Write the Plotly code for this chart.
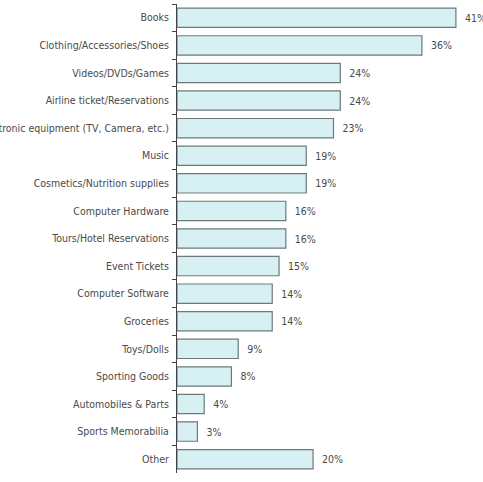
import plotly.graph_objects as go

categories = ["Books", "Clothing/Accessories/Shoes", "Videos/DVDs/Games",
              "Airline ticket/Reservations", "Electronic equipment (TV, Camera, etc.)",
              "Music", "Cosmetics/Nutrition supplies", "Computer Hardware",
              "Tours/Hotel Reservations", "Event Tickets", "Computer Software",
              "Groceries", "Toys/Dolls", "Sporting Goods", "Automobiles & Parts",
              "Sports Memorabilia", "Other"]
values = [41, 36, 24, 24, 23, 19, 19, 16, 16, 15, 14, 14, 9, 8, 4, 3, 20]
labels = [f"{v}%" for v in values]

FONT = "DejaVu Sans Condensed, Liberation Sans Narrow, sans-serif"

fig = go.Figure(go.Bar(
    x=values, y=categories, orientation="h",
    marker=dict(color="#d7f0f3", line=dict(color="#6e7879", width=1.2)),
    text=["  " + t for t in labels], textposition="outside",
    textfont=dict(family=FONT, size=10.5, color="#4a4a4a"),
    cliponaxis=False, width=0.7,
))

fig.update_layout(
    width=483, height=482,
    margin=dict(l=177, r=6, t=4, b=9),
    paper_bgcolor="white", plot_bgcolor="white",
    showlegend=False,
    font=dict(family=FONT, size=10.5, color="#4a4a4a"),
    xaxis=dict(range=[0, 44.1], visible=False, fixedrange=True),
    yaxis=dict(autorange="reversed", automargin=False,
               tickson="boundaries", ticks="outside",
               ticklen=4, tickcolor="#444", showline=True, linecolor="#444",
               linewidth=1, showgrid=False, ticklabelstandoff=5,
               tickfont=dict(family=FONT, size=10.5, color="#4a4a4a")),
)

fig.write_html("out.html")
